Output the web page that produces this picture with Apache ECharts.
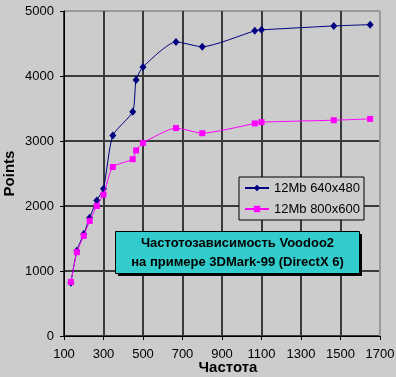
<!DOCTYPE html>
<html lang="ru" style="height: 100%">
<head>
    <meta charset="utf-8"/>
</head>
<body style="height: 100%; margin: 0; overflow: hidden; background: #cccccc">
<div id="container" style="width: 396px; height: 377px"></div>

<script type="text/javascript" src="https://cdn.jsdelivr.net/npm/echarts@6/dist/echarts.min.js"></script>

<script type="text/javascript">
    // частота (МГц) и результаты 3DMark-99
    var freqs = [135, 165, 200, 230, 266, 300, 347, 448, 465, 500, 667, 800, 1066, 1100, 1466, 1650];
    var pts640 = [820, 1310, 1570, 1820, 2085, 2265, 3085, 3450, 3940, 4140, 4525, 4450, 4695, 4710, 4770, 4790];
    var pts800 = [830, 1290, 1540, 1770, 2000, 2175, 2600, 2720, 2855, 2970, 3200, 3120, 3270, 3290, 3320, 3340];
    var seriesNames = ["12Mb 640x480", "12Mb 800x600"];
    var titleLines = ["Частотозависимость Voodoo2", "на примере 3DMark-99 (DirectX 6)"];

    function pairs(ys) {
        return freqs.map(function (f, i) { return [f, ys[i]]; });
    }

    var FONT = "'Liberation Sans', Arial, sans-serif";
    var plain = function (v) { return String(v); };
    // последняя линия сетки (рамка сверху/справа) — серая
    var G = "#3a3a3a";
    var xGrid = [G, G, G, G, G, G, G, G, "#9a9a9a"];
    var yGrid = [G, G, G, G, G, "#9a9a9a"];

    var myChart = echarts.init(document.getElementById("container"), null, {renderer: "canvas"});

    var option = {
        backgroundColor: "#cccccc",
        animation: false,
        textStyle: {fontFamily: FONT},
        grid: {left: 64, right: 16, top: 11, bottom: 41, outerBoundsMode: "none"},
        legend: {
            left: 239, top: 177,
            orient: "vertical",
            backgroundColor: "#cccccc",
            borderColor: "#000",
            borderWidth: 1,
            borderRadius: 0,
            padding: [4, 4, 4, 5],
            itemGap: 7,
            itemWidth: 24,
            itemHeight: 8,
            itemTextGap: 5,
            textStyle: {fontSize: 13, color: "#000", lineHeight: 14, fontFamily: FONT},
            z: 8
        },
        xAxis: {
            type: "value",
            min: 100, max: 1700, interval: 200,
            name: "Частота",
            nameLocation: "middle",
            nameGap: 24,
            nameMoveOverlap: false,
            nameTextStyle: {fontSize: 15, fontWeight: "bold", color: "#000", padding: [0, 0, 0, 12]},
            axisLine: {show: true, onZero: false, lineStyle: {color: "#000"}},
            axisTick: {show: true, length: 4, lineStyle: {color: "#000"}},
            axisLabel: {fontSize: 13, color: "#000", margin: 12, formatter: plain},
            splitLine: {show: true, lineStyle: {color: xGrid, width: 2}}
        },
        yAxis: {
            type: "value",
            min: 0, max: 5000, interval: 1000,
            name: "Points",
            nameLocation: "middle",
            nameGap: 47,
            nameMoveOverlap: false,
            nameTextStyle: {fontSize: 15, fontWeight: "bold", color: "#000"},
            axisLine: {show: true, onZero: false, lineStyle: {color: "#000"}},
            axisTick: {show: true, length: 4, lineStyle: {color: "#000"}},
            axisLabel: {fontSize: 13, color: "#000", margin: 10, formatter: plain},
            splitLine: {show: true, lineStyle: {color: yGrid, width: 2}}
        },
        series: [
            {
                name: seriesNames[0],
                type: "line",
                data: pairs(pts640),
                smooth: 0.2,
                symbol: "diamond",
                symbolSize: [7, 8],
                color: "#000080",
                lineStyle: {width: 1},
                z: 3
            },
            {
                name: seriesNames[1],
                type: "line",
                data: pairs(pts800),
                smooth: 0.2,
                symbol: "rect",
                symbolSize: 6,
                color: "#ff00ff",
                lineStyle: {width: 1},
                z: 4
            }
        ],
        graphic: [
            {
                type: "rect",
                shape: {x: 118, y: 234, width: 244, height: 42},
                style: {fill: "#000"},
                z: 10
            },
            {
                type: "rect",
                shape: {x: 115.5, y: 231.5, width: 244, height: 42},
                style: {fill: "#33cccc", stroke: "#000", lineWidth: 1},
                z: 11
            },
            {
                type: "text",
                x: 237.5, y: 252.5,
                style: {
                    text: titleLines.join("\n"),
                    fontFamily: FONT,
                    fontSize: 13,
                    fontWeight: "bold",
                    lineHeight: 19,
                    fill: "#000",
                    align: "center",
                    verticalAlign: "middle"
                },
                z: 12
            }
        ]
    };

    myChart.setOption(option);
</script>
</body>
</html>
